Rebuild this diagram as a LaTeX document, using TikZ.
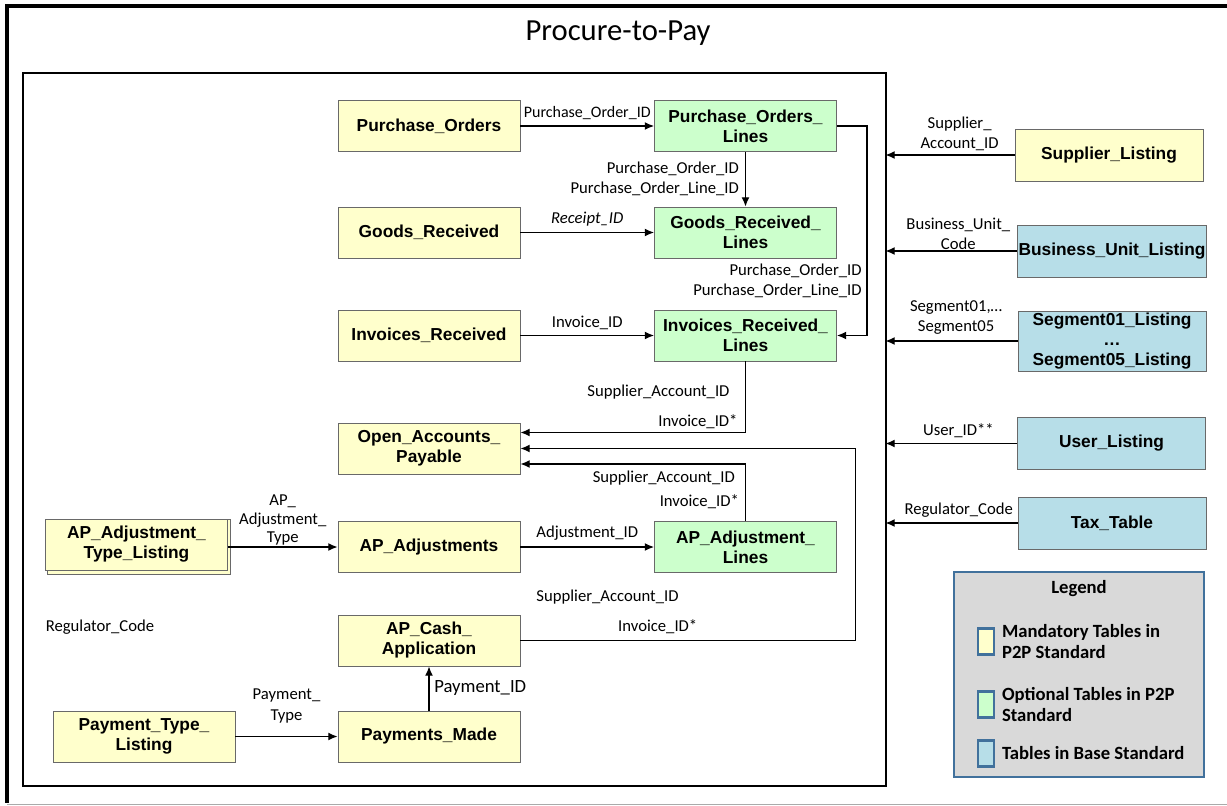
\documentclass[tikz,border=0pt]{standalone}
\usepackage{fontspec}
\setmainfont{Carlito}
\newfontfamily\tablefont{Liberation Sans}
\usetikzlibrary{positioning,arrows.meta,calc}

\definecolor{mandfill}{RGB}{255,255,204}
\definecolor{optfill}{RGB}{204,255,204}
\definecolor{basefill}{RGB}{183,222,232}
\definecolor{tableline}{RGB}{105,105,105}
\definecolor{legfill}{RGB}{217,217,217}
\definecolor{legline}{RGB}{65,113,156}
\definecolor{pagerule}{RGB}{170,170,170}

\tikzset{
  tablebox/.style={draw=tableline, line width=0.6pt, minimum width=136.5pt, minimum height=38.25pt,
    inner sep=1pt, align=center, font=\tablefont\fontsize{13}{15}\selectfont\bfseries},
  mandtab/.style={tablebox, fill=mandfill},
  opttab/.style={tablebox, fill=optfill},
  basetab/.style={tablebox, fill=basefill, minimum width=141pt, minimum height=39pt},
  idlabel/.style={font=\fontsize{12.5}{15}\selectfont, inner sep=1.5pt, align=center},
  fkarrow/.style={line width=1pt, -{Latex[length=7pt,width=6pt]}},
  swatch/.style={draw=legline, line width=2.2pt, minimum width=12pt, minimum height=20pt, inner sep=0pt},
  legtext/.style={font=\fontsize{14}{16}\selectfont\bfseries, inner sep=0.75pt, align=left},
}

\begin{document}
\begin{tikzpicture}[x=0.75pt,y=0.75pt,yscale=-1,xscale=1]
\useasboundingbox (0,0) rectangle (1227,806);

%Page frame
\draw [line width=2.4pt] (1240,6) -- (7,6) -- (7,803) ;
\draw [color=pagerule, line width=0.8pt] (7,804.5) -- (1227,804.5) ;

% Text Node
\draw (618,33) node [font=\fontsize{23}{27}\selectfont] (title) {Procure-to-Pay};

%Shape: P2P Frame
\draw (454.5,429.5) node [draw, line width=1.1pt, minimum width=647.25pt, minimum height=534.75pt, inner sep=0pt] (p2p) {};

%Shape: Stacked sheet behind AP_Adjustment_Type_Listing
\draw [draw=tableline, fill=mandfill, line width=0.6pt] (47.5,519.5) rectangle (230,574.5) ;

%Shape: Tables in P2P Standard
\draw (429,126) node [mandtab] (po) {Purchase\_Orders};
\draw (745.5,126) node [opttab] (pol) {Purchase\_Orders\_\\Lines};
\draw (429,232.5) node [mandtab] (gr) {Goods\_Received};
\draw (745.5,232.5) node [opttab] (grl) {Goods\_Received\_\\Lines};
\draw (429,335.5) node [mandtab] (ir) {Invoices\_Received};
\draw (745.5,335.5) node [opttab] (irl) {Invoices\_Received\_\\Lines};
\draw (429,448.5) node [mandtab] (oap) {Open\_Accounts\_\\Payable};
\draw (136.5,544.5) node [mandtab] (apatl) {AP\_Adjustment\_\\Type\_Listing};
\draw (429,547) node [mandtab] (apa) {AP\_Adjustments};
\draw (745.5,547) node [opttab] (apal) {AP\_Adjustment\_\\Lines};
\draw (429,640.5) node [mandtab] (apc) {AP\_Cash\_\\Application};
\draw (144,736.5) node [mandtab] (ptl) {Payment\_Type\_\\Listing};
\draw (429,736.5) node [mandtab] (pm) {Payments\_Made};

%Shape: Tables in Base Standard
\draw (1109,155) node [mandtab, minimum width=141pt, minimum height=39pt] (sup) {Supplier\_Listing};
\draw (1112,251) node [basetab] (bul) {Business\_Unit\_Listing};
\draw (1112,341) node [basetab, minimum height=45pt] (seg) {Segment01\_Listing\\\dots\\Segment05\_Listing};
\draw (1111.5,443.5) node [basetab] (usr) {User\_Listing};
\draw (1112,523) node [basetab] (tax) {Tax\_Table};

%Straight Lines
\draw [fkarrow] (po) -- node [above=3pt, idlabel, font=\fontsize{12}{14}\selectfont] {Purchase\_Order\_ID} (pol) ;
\draw [fkarrow] (pol) -- node [left=3pt, idlabel, align=right] {Purchase\_Order\_ID\\Purchase\_Order\_Line\_ID} (grl) ;
\draw [fkarrow] (gr) -- node [above=3pt, idlabel] {\textit{Receipt\_ID}} (grl) ;
\draw [fkarrow] (pol.east) -- ++(30,0) |- node [pos=0.37, left=2pt, idlabel, align=right] {Purchase\_Order\_ID\\Purchase\_Order\_Line\_ID} (irl.east) ;
\draw [fkarrow] (ir) -- node [above=2pt, idlabel] {Invoice\_ID} (irl) ;
\draw [fkarrow] (irl.south) |- node [pos=0.32, left=4pt, idlabel, align=right] {Supplier\_Account\_ID\kern6pt\\[7pt]Invoice\_ID*} ($(oap.east)+(0,-16)$) ;
\draw [fkarrow] (apal.north) |- node [pos=0.27, left=3pt, idlabel, align=right] {Supplier\_Account\_ID\kern3pt\\[3pt]Invoice\_ID*} ($(oap.east)+(0,15.5)$) ;
\draw [fkarrow] (apc.east) -- node [pos=0.41, above=3pt, idlabel] {Invoice\_ID*} node [pos=0.26, above=25pt, idlabel] {Supplier\_Account\_ID} ++(335,0) |- (oap.east) ;
\draw [fkarrow] (apatl.east |- apa.west) -- node [above=-1pt, idlabel, font=\fontsize{12.5}{14}\selectfont] {AP\_\\Adjustment\_\\Type} (apa.west) ;
\draw [fkarrow] (apa) -- node [above=3pt, idlabel] {Adjustment\_ID} (apal) ;
\draw [fkarrow] (ptl) -- node [above=8pt, idlabel, font=\fontsize{12.5}{15.75}\selectfont] {Payment\_\\Type} (pm) ;
\draw [fkarrow] (pm) -- node [right=2pt, idlabel, font=\fontsize{14}{16}\selectfont] {Payment\_ID} (apc) ;

%Straight Lines: Base Standard keys
\draw [fkarrow, shorten >=-1pt] (sup) -- node [pos=0.43, above=1pt, idlabel] {Supplier\_\\Account\_ID} (sup -| p2p.east) ;
\draw [fkarrow, shorten >=-1pt] (bul) -- node [pos=0.45, above=-1pt, idlabel] {Business\_Unit\_\\Code} (bul -| p2p.east) ;
\draw [fkarrow, shorten >=-1pt] (seg) -- node [pos=0.47, above=3pt, idlabel] {Segment01,\dots\\Segment05} (seg -| p2p.east) ;
\draw [fkarrow, shorten >=-1pt] (usr) -- node [pos=0.45, above=2pt, idlabel] {User\_ID**} (usr -| p2p.east) ;
\draw [fkarrow, shorten >=-1pt] (tax) -- node [pos=0.45, above=2pt, idlabel] {Regulator\_Code} (tax -| p2p.east) ;

% Text Node
\draw (100,627) node [idlabel] (regcode) {Regulator\_Code};

%Shape: Legend
\draw (1079,674.5) node [fill=legfill, draw=legline, line width=2.2pt, minimum width=187.5pt, minimum height=153.75pt, inner sep=0pt] (legend) {};
\draw (1079,589) node [legtext] (legtitle) {Legend};
\draw (986,641.5) node [swatch, fill=mandfill] (swmand) {};
\draw (986,704.5) node [swatch, fill=optfill] (swopt) {};
\draw (986,753.5) node [swatch, fill=basefill] (swbase) {};
\draw (swmand.east) node [legtext, anchor=west, xshift=4pt] (txmand) {Mandatory Tables in\\P2P Standard};
\draw (swopt.east) node [legtext, anchor=west, xshift=4pt] (txopt) {Optional Tables in P2P\\Standard};
\draw (swbase.east) node [legtext, anchor=west, xshift=4pt] (txbase) {Tables in Base Standard};

\end{tikzpicture}
\end{document}
